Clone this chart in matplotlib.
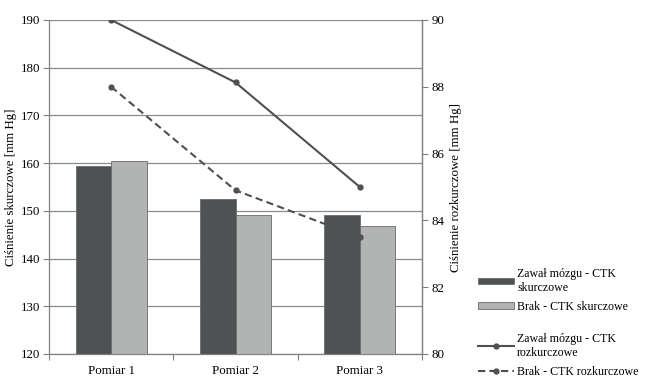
import matplotlib
matplotlib.use("Agg")
import matplotlib.pyplot as plt
import numpy as np
from matplotlib.patches import Patch
from matplotlib.lines import Line2D

categories = ["Pomiar 1", "Pomiar 2", "Pomiar 3"]
zawal_skurcz = [159.5, 152.4, 149.1]
brak_skurcz = [160.4, 149.1, 146.8]
zawal_rozkurcz = [90.0, 88.13, 85.0]
brak_rozkurcz = [88.0, 84.9, 83.5]

left_ticks = [120, 130, 140, 150, 160, 170, 180, 190]
right_ticks = [80, 82, 84, 86, 88, 90]

plt.rcParams['font.family'] = ['Liberation Serif', 'DejaVu Serif']
fs = 9.3
lfs = 8.6
dark = '#4f5253'
light = '#b2b3b3'
edge = '#6a6a6a'
axis_col = '#808080'

fig = plt.figure(figsize=(6.5, 3.86), dpi=100)
ax = fig.add_axes([49/650, 1-354/386, (422-49)/650, (354-20)/386])

x = np.arange(len(categories))
w = 0.286
ax.bar(x - w/2, np.array(zawal_skurcz) - 120, bottom=120, width=w, color=dark,
       edgecolor=edge, linewidth=0.6, zorder=3)
ax.bar(x + w/2, np.array(brak_skurcz) - 120, bottom=120, width=w, color=light,
       edgecolor=edge, linewidth=0.6, zorder=3)
ax.set_xlim(-0.5, 2.5)
ax.set_ylim(120, 190)
ax.set_yticks(left_ticks)
ax.set_yticklabels([str(t) for t in left_ticks], fontsize=fs)
ax.set_xticks([-0.5, 0.5, 1.5, 2.5])
ax.set_xticklabels([])
ax.set_xticks(x, minor=True)
ax.set_xticklabels(categories, minor=True, fontsize=fs)
ax.tick_params(axis='x', which='minor', length=0, pad=8)
ax.tick_params(axis='x', which='major', length=4, color=axis_col)
ax.tick_params(axis='y', length=4, color=axis_col, pad=2)
ax.yaxis.grid(True, color='#8a8a8a', linewidth=0.9, zorder=0)
ax.set_axisbelow(True)
ax.spines['top'].set_visible(False)
for s in ['left', 'bottom', 'right']:
    ax.spines[s].set_color(axis_col)
    ax.spines[s].set_linewidth(0.9)
ax.set_ylabel("Ciśnienie skurczowe [mm Hg]", fontsize=fs, labelpad=3)

ax2 = ax.twinx()
ax2.plot(x, zawal_rozkurcz, color='#505050', linewidth=1.5, marker='o',
         markersize=3.5, zorder=4)
ax2.plot(x, brak_rozkurcz, color='#505050', linewidth=1.5, linestyle=(0, (3.5, 2)),
         marker='o', markersize=3.5, zorder=4)
ax2.set_ylim(80, 90)
ax2.set_yticks(right_ticks)
ax2.set_yticklabels([str(t) for t in right_ticks], fontsize=fs)
ax2.tick_params(axis='y', length=4, color=axis_col, pad=3)
for s in ['top', 'left', 'bottom']:
    ax2.spines[s].set_visible(False)
ax2.spines['right'].set_color(axis_col)
ax2.spines['right'].set_linewidth(0.9)
ax2.set_ylabel("Ciśnienie rozkurczowe [mm Hg]", fontsize=fs, labelpad=4)

h_bars = [Patch(facecolor=dark, edgecolor=edge, linewidth=0.6),
          Patch(facecolor=light, edgecolor=edge, linewidth=0.6)]
fig.legend(h_bars, ["Zawał mózgu - CTK\nskurczowe", "Brak - CTK skurczowe"],
           loc='upper left', bbox_to_anchor=(473/650, 1-263/386), frameon=False,
           fontsize=lfs, handlelength=3.0, handleheight=0.45, handletextpad=0.3,
           labelspacing=0.6, borderaxespad=0)
h_lines = [Line2D([], [], color='#505050', linewidth=1.5, marker='o', markersize=3.5),
           Line2D([], [], color='#505050', linewidth=1.5, linestyle=(0, (3.5, 2)),
                  marker='o', markersize=3.5)]
fig.legend(h_lines, ["Zawał mózgu - CTK\nrozkurczowe", "Brak - CTK rozkurczowe"],
           loc='upper left', bbox_to_anchor=(473/650, 1-328/386), frameon=False,
           fontsize=lfs, handlelength=3.0, handletextpad=0.3,
           labelspacing=0.6, borderaxespad=0)

fig.savefig("out.png", dpi=100)
